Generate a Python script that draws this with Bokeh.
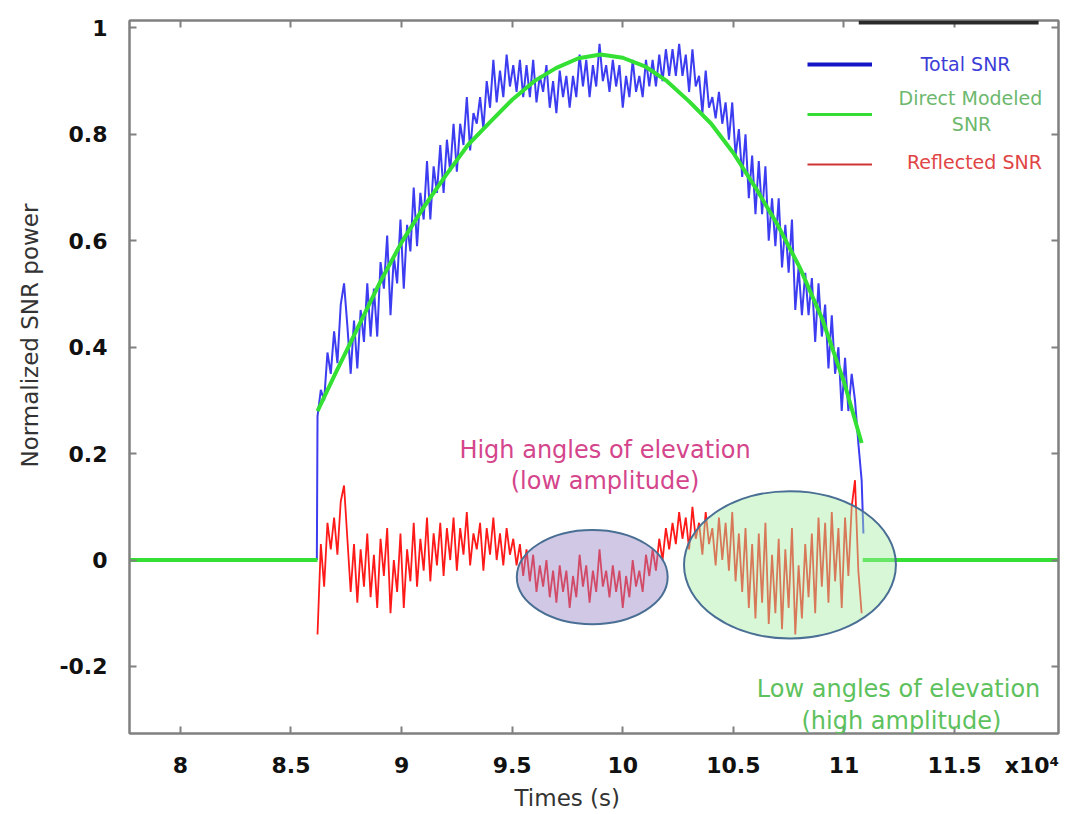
import numpy as np
from bokeh.plotting import figure
from bokeh.models import (Range1d, FixedTicker, LinearAxis, Label, Legend, LegendItem,
                          BoxAnnotation, ColumnDataSource, Title)
from bokeh.embed import file_html
from bokeh.resources import INLINE

nan = float("nan")

# ---------------- data (times in seconds) ----------------
sample_t = list(range(86200, 110801, 150))   # sampling instants of the pass

reflected_snr = [
    -0.14, 0.03, -0.05, 0.07, 0.02, 0.08, 0.01, 0.11, 0.14, 0.04,
    -0.06, 0.03, -0.08, 0.02, -0.05, 0.05, -0.07, 0.01, -0.09, 0.04,
    -0.03, 0.06, -0.10, 0.00, -0.06, 0.05, -0.09, 0.02, -0.04, 0.07,
    -0.05, 0.04, -0.02, 0.08, -0.04, 0.05, -0.01, 0.07, -0.03, 0.06,
    0.00, 0.08, -0.02, 0.06, 0.01, 0.09, -0.01, 0.05, 0.02, 0.07,
    -0.02, 0.06, 0.01, 0.08, 0.00, 0.05, -0.01, 0.06, 0.01, 0.04,
    -0.01, 0.03, -0.03, 0.02, -0.04, 0.01, -0.06, -0.01, -0.05, 0.00,
    -0.07, -0.02, -0.08, -0.01, -0.06, -0.02, -0.09, -0.03, -0.07, 0.01,
    -0.05, -0.01, -0.08, -0.02, -0.06, 0.02, -0.05, -0.02, -0.07, -0.01,
    -0.06, -0.02, -0.09, -0.03, -0.07, 0.00, -0.05, -0.02, -0.06, 0.01,
    -0.03, 0.02, -0.02, 0.04, 0.00, 0.06, 0.02, 0.07, 0.03, 0.09,
    0.04, 0.08, 0.02, 0.10, 0.04, 0.07, 0.01, 0.09, 0.03, 0.06,
    -0.01, 0.08, 0.00, 0.07, -0.02, 0.09, -0.04, 0.05, -0.06, 0.06,
    -0.09, 0.03, -0.11, 0.05, -0.08, 0.07, -0.12, 0.01, -0.10, 0.04,
    -0.13, 0.02, -0.09, 0.06, -0.14, -0.01, -0.11, 0.03, -0.07, 0.05,
    -0.10, 0.08, -0.05, 0.07, -0.08, 0.09, -0.04, 0.06, -0.09, 0.08,
    -0.03, 0.10, 0.15, -0.02, -0.10,
]

total_snr = [
    0.27, 0.32, 0.30, 0.39, 0.35, 0.43, 0.37, 0.48, 0.52, 0.44,
    0.35, 0.45, 0.36, 0.47, 0.41, 0.52, 0.42, 0.51, 0.42, 0.56,
    0.51, 0.61, 0.46, 0.57, 0.52, 0.64, 0.51, 0.63, 0.58, 0.70,
    0.59, 0.69, 0.64, 0.75, 0.64, 0.74, 0.69, 0.78, 0.69, 0.79,
    0.73, 0.82, 0.73, 0.82, 0.78, 0.87, 0.77, 0.84, 0.82, 0.87,
    0.81, 0.90, 0.85, 0.94, 0.86, 0.92, 0.87, 0.95, 0.89, 0.93,
    0.88, 0.94, 0.87, 0.93, 0.87, 0.94, 0.86, 0.91, 0.88, 0.93,
    0.85, 0.90, 0.84, 0.92, 0.87, 0.91, 0.85, 0.91, 0.87, 0.95,
    0.89, 0.94, 0.87, 0.93, 0.89, 0.97, 0.90, 0.93, 0.88, 0.94,
    0.89, 0.93, 0.85, 0.91, 0.87, 0.94, 0.88, 0.91, 0.87, 0.94,
    0.89, 0.94, 0.89, 0.95, 0.90, 0.96, 0.91, 0.96, 0.91, 0.97,
    0.91, 0.95, 0.88, 0.96, 0.89, 0.91, 0.84, 0.92, 0.85, 0.87,
    0.83, 0.88, 0.82, 0.86, 0.79, 0.86, 0.76, 0.81, 0.72, 0.80,
    0.68, 0.76, 0.65, 0.75, 0.65, 0.74, 0.60, 0.68, 0.59, 0.68,
    0.55, 0.63, 0.54, 0.64, 0.47, 0.55, 0.46, 0.54, 0.46, 0.53,
    0.41, 0.52, 0.42, 0.48, 0.36, 0.46, 0.35, 0.40, 0.28, 0.38,
    0.28, 0.35, 0.30, 0.22, 0.15,
]
total_t = [86170] + sample_t + [110880]
total_vals = [0.0] + total_snr + [0.05]

direct_t = [77700, 86200, nan,
            86200, 87000, 88000, 89000, 90000, 91000, 92000, 93000, 94000, 95000,
            96000, 97000, 98000, 99000, 100000, 101000, 102000, 103000, 104000,
            105000, 106000, 107000, 108000, 109000, 110000, 110800, nan,
            110850, 119700]
direct_snr = [0.0, 0.0, nan,
              0.28, 0.35, 0.435, 0.52, 0.597, 0.663, 0.723, 0.78, 0.823, 0.865,
              0.90, 0.925, 0.943, 0.95, 0.944, 0.928, 0.90, 0.862, 0.82,
              0.765, 0.70, 0.63, 0.55, 0.455, 0.335, 0.22, nan,
              0.0, 0.0]

x_ticks = [80000, 85000, 90000, 95000, 100000, 105000, 110000, 115000]
x_tick_labels = ["8", "8.5", "9", "9.5", "10", "10.5", "11", "11.5"]
x_exponent_at = 118500
x_exponent_label = "x10\u2074"
y_ticks = [-0.2, 0.0, 0.2, 0.4, 0.6, 0.8, 1.0]
y_tick_labels = ["-0.2", "0", "0.2", "0.4", "0.6", "0.8", "1"]

zone_x = [98620, 107560]
zone_y = [-0.032, -0.009]
zone_w = [6820, 9580]
zone_h = [0.177, 0.277]
zone_fill = ["#9a86c6", "#a6eea6"]

# ---------------- figure ----------------
p = figure(width=1075, height=812, output_backend="svg", toolbar_location=None,
           x_range=Range1d(77700, 119700), y_range=Range1d(-0.326, 1.014),
           x_axis_type=None, y_axis_type=None,
           min_border_left=128, min_border_right=17, min_border_top=20,
           min_border_bottom=72)
p.outline_line_color = "#808080"
p.outline_line_width = 2
p.background_fill_color = "white"
p.border_fill_color = "white"

AX = "#808080"
TICK_FONT = "DejaVu Sans"


def tick_axis(ticks):
    """Axis that only draws the frame line and inward tick marks."""
    ax = LinearAxis(ticker=FixedTicker(ticks=ticks))
    ax.axis_line_color = AX
    ax.axis_line_width = 2
    ax.major_tick_line_color = AX
    ax.major_tick_line_width = 2
    ax.major_tick_in = 7
    ax.major_tick_out = 0
    ax.minor_tick_line_color = None
    ax.major_label_overrides = {t: "" for t in ticks}
    ax.major_label_text_font_size = "1px"
    ax.major_label_standoff = 0
    return ax


def label_style(ax):
    ax.major_label_text_font = TICK_FONT
    ax.major_label_text_font_style = "bold"
    ax.major_label_text_font_size = "22px"
    ax.major_label_text_color = "#111111"


# bottom: tick marks on the frame, then the labels (incl. the x10^4 factor)
p.add_layout(tick_axis(x_ticks), "below")
xl = LinearAxis(ticker=FixedTicker(ticks=x_ticks + [x_exponent_at]))
xl.axis_line_color = None
xl.major_tick_line_color = None
xl.minor_tick_line_color = None
xl.major_label_overrides = dict(zip(x_ticks + [x_exponent_at],
                                    x_tick_labels + [x_exponent_label]))
label_style(xl)
xl.major_label_standoff = 13
p.add_layout(xl, "below")

yl = LinearAxis(ticker=FixedTicker(ticks=y_ticks))
yl.axis_line_color = AX
yl.axis_line_width = 2
yl.major_tick_line_color = AX
yl.major_tick_line_width = 2
yl.major_tick_in = 7
yl.major_tick_out = 0
yl.minor_tick_line_color = None
yl.major_label_overrides = dict(zip(y_ticks, y_tick_labels))
label_style(yl)
yl.major_label_standoff = 22
p.add_layout(yl, "left")

p.add_layout(tick_axis(x_ticks), "above")
p.add_layout(tick_axis(y_ticks), "right")

# axis titles
p.add_layout(Title(text="Times (s)", align="left", offset=385, standoff=4,
                   text_font="DejaVu Sans", text_font_size="23px",
                   text_font_style="normal", text_color="#333333"), "below")
p.add_layout(Title(text="Normalized SNR power", align="left", offset=266, standoff=28,
                   text_font="DejaVu Sans", text_font_size="23px",
                   text_font_style="normal", text_color="#333333"), "left")

# ---------------- series ----------------
p.line(total_t, total_vals, line_color="#1a1aee", line_width=2.0, line_alpha=0.85)
p.line(sample_t, reflected_snr, line_color="#ff1a1a", line_width=1.8)
p.line(direct_t, direct_snr, line_color="#33e033", line_width=4)

zones = ColumnDataSource(dict(x=zone_x, y=zone_y, w=zone_w, h=zone_h, fill=zone_fill))
p.ellipse(x="x", y="y", width="w", height="h", source=zones,
          fill_color="fill", fill_alpha=0.45, line_color="#4a6f94", line_width=2)

# ---------------- legend (glyph samples) ----------------
lg_total = p.line(x=[nan], y=[nan], line_color="#1515c8", line_width=4)
lg_direct = p.line(x=[nan], y=[nan], line_color="#33dd33", line_width=3)
lg_refl = p.line(x=[nan], y=[nan], line_color="#d03535", line_width=2)
legend = Legend(items=[LegendItem(label=" ", renderers=[lg_total]),
                       LegendItem(label=" ", renderers=[lg_direct]),
                       LegendItem(label=" ", renderers=[lg_refl])],
                location=(678, 559), orientation="vertical",
                glyph_width=65, glyph_height=20, label_height=20, label_width=1,
                label_standoff=0, spacing=30, padding=10, margin=0,
                border_line_color=None, background_fill_alpha=0)
p.add_layout(legend)

LEG_FONT = "DejaVu Sans"
for txt, lx, ly, col in [("Total SNR", 115500, 0.932, "#3d3dd8"),
                         ("Direct Modeled", 115720, 0.869, "#6db86d"),
                         ("SNR", 115770, 0.819, "#6db86d"),
                         ("Reflected SNR", 115900, 0.748, "#e04545")]:
    p.add_layout(Label(x=lx, y=ly, text=txt, text_align="center", text_baseline="middle",
                       text_font=LEG_FONT, text_font_size="19px", text_color=col))

# ---------------- annotations ----------------
for txt, lx, ly, col in [("High angles of elevation", 99200, 0.206, "#d4458c"),
                         ("(low amplitude)", 99200, 0.149, "#d4458c"),
                         ("Low angles of elevation", 112470, -0.242, "#5dc15d"),
                         ("(high amplitude)", 112600, -0.302, "#5dc15d")]:
    p.add_layout(Label(x=lx, y=ly, text=txt, text_align="center", text_baseline="middle",
                       text_font="DejaVu Sans", text_font_size="24px", text_color=col))

p.add_layout(BoxAnnotation(left=110670, right=118800, bottom=1.0065, top=1.014,
                           fill_color="#2a2a2a", fill_alpha=1, line_color=None))

open("out.html", "w").write(file_html(p, INLINE))
